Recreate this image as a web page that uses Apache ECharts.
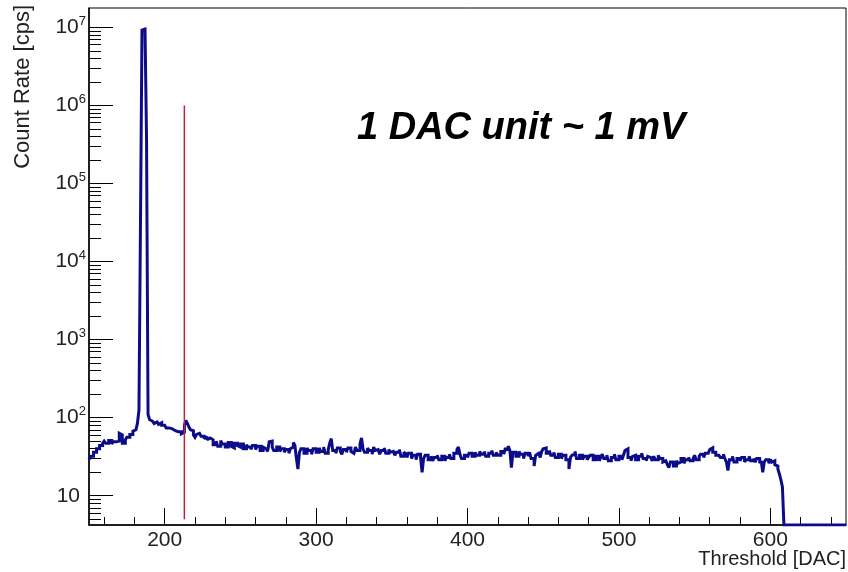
<!DOCTYPE html>
<html>
<head>
<meta charset="utf-8">
<script src="https://cdn.jsdelivr.net/npm/echarts@6/dist/echarts.min.js"></script>
<style>
  html, body { margin: 0; padding: 0; background: #fff; }
  #chart { width: 848px; height: 572px; }
</style>
</head>
<body>
<div id="chart"></div>
<script>
// histogram: 1 DAC bins starting at 150
var BIN_START = 150
var BIN_WIDTH = 1
var counts = [
  29, 32, 32, 36, 36, 40, 40, 44, 44, 47,
  50, 47, 47, 51, 51, 46, 49, 49, 47, 50,
  63, 60, 47, 47, 52, 56, 56, 61, 61, 67,
  70, 72, 85, 125, 31000, 9200000, 9500000, 9300000, 380000, 110,
  95, 90, 90, 84, 88, 88, 82, 86, 80, 80,
  78, 74, 74, 70, 72, 68, 68, 71, 66, 68,
  66, 62, 65, 80, 92, 84, 76, 70, 68, 60,
  56, 61, 63, 63, 58, 58, 54, 57, 52, 55,
  52, 52, 45, 45, 50, 43, 43, 51, 46, 46,
  42, 42, 48, 48, 43, 41, 47, 47, 44, 42,
  46, 46, 40, 40, 45, 42, 42, 39, 44, 44,
  39, 43, 43, 38, 38, 42, 40, 40, 37, 49,
  50, 42, 38, 38, 42, 42, 37, 40, 40, 36,
  39, 39, 35, 40, 42, 48, 44, 30, 22, 36,
  40, 40, 35, 35, 41, 38, 38, 34, 40, 40,
  36, 36, 41, 37, 37, 42, 35, 35, 39, 47,
  54, 38, 38, 35, 41, 41, 37, 34, 39, 39,
  36, 41, 41, 37, 35, 35, 42, 38, 38, 46,
  55, 40, 36, 36, 41, 38, 38, 34, 42, 38,
  39, 39, 34, 38, 38, 41, 35, 35, 39, 36,
  37, 37, 33, 36, 36, 39, 32, 32, 36, 34,
  31, 35, 35, 30, 33, 33, 29, 34, 34, 31,
  20, 30, 33, 33, 29, 29, 32, 28, 31, 31,
  33, 29, 29, 32, 32, 28, 31, 31, 34, 30,
  30, 35, 35, 39, 42, 34, 30, 30, 33, 33,
  31, 35, 35, 32, 32, 36, 33, 33, 37, 34,
  34, 37, 32, 32, 35, 35, 38, 33, 33, 36,
  33, 33, 37, 37, 34, 41, 38, 43, 38, 23,
  36, 36, 32, 32, 37, 34, 34, 30, 35, 35,
  32, 36, 30, 30, 24, 33, 35, 35, 31, 37,
  40, 41, 35, 35, 38, 33, 33, 36, 31, 31,
  34, 34, 30, 33, 33, 29, 29, 22, 31, 33,
  34, 37, 30, 30, 33, 33, 29, 32, 32, 29,
  31, 33, 33, 29, 29, 32, 32, 28, 31, 34,
  30, 30, 33, 28, 28, 31, 31, 34, 29, 29,
  32, 32, 29, 33, 38, 40, 31, 31, 28, 32,
  33, 29, 29, 32, 32, 35, 30, 30, 28, 32,
  31, 31, 28, 32, 29, 29, 33, 30, 30, 27,
  28, 28, 25, 23, 27, 27, 24, 24, 28, 26,
  27, 30, 30, 26, 29, 29, 31, 28, 28, 30,
  33, 29, 29, 32, 34, 34, 31, 35, 35, 33,
  39, 41, 36, 36, 33, 33, 35, 31, 31, 34,
  30, 27, 21, 29, 29, 32, 27, 27, 30, 30,
  28, 31, 31, 27, 29, 29, 32, 28, 28, 30,
  27, 30, 30, 26, 28, 20, 27, 29, 29, 26,
  29, 27, 28, 25, 24, 22, 19, 16, 13,
  0, 0, 0, 0, 0, 0, 0, 0, 0, 0,
  0, 0, 0, 0, 0, 0, 0, 0, 0, 0,
  0, 0, 0, 0, 0, 0, 0, 0, 0, 0,
  0, 0, 0, 0, 0, 0, 0, 0, 0, 0,
  0
]

var X_MIN = 150
var X_MAX = 650
var Y_MIN = 4.22
var Y_MAX = 1.767e7

var xMajor = [200, 300, 400, 500, 600]
var xMinor = [160, 180, 220, 240, 260, 280, 320, 340, 360, 380, 420, 440, 460, 480,
              520, 540, 560, 580, 620, 640]
var yMajor = [10, 100, 1000, 10000, 100000, 1000000, 10000000]
var yMinor = [5, 6, 7, 8, 9, 20, 30, 40, 50, 60, 70, 80, 90,
              200, 300, 400, 500, 600, 700, 800, 900,
              2000, 3000, 4000, 5000, 6000, 7000, 8000, 9000,
              2e4, 3e4, 4e4, 5e4, 6e4, 7e4, 8e4, 9e4,
              2e5, 3e5, 4e5, 5e5, 6e5, 7e5, 8e5, 9e5,
              2e6, 3e6, 4e6, 5e6, 6e6, 7e6, 8e6, 9e6]

// threshold marker
var cutX = 213
var cutY = [5, 1e6]

var histData = counts.map(function (c, i) {
  return [BIN_START + i * BIN_WIDTH, Math.max(c, Y_MIN)]
})
histData.push([BIN_START + counts.length * BIN_WIDTH, Math.max(counts[counts.length - 1], Y_MIN)])

var chart = echarts.init(document.getElementById('chart'))

var font = '"Liberation Sans", Arial, sans-serif'

var option = {
  animation: false,
  backgroundColor: '#fff',
  grid: {
    left: 89, top: 8, width: 757, height: 517,
    show: true, borderColor: '#000', borderWidth: 1, backgroundColor: 'transparent'
  },
  xAxis: [
    {
      type: 'value', min: X_MIN, max: X_MAX, position: 'bottom',
      axisLine: { lineStyle: { color: '#000', width: 1.5 } },
      axisTick: { inside: true, length: 17, customValues: xMajor, lineStyle: { color: '#000' } },
      axisLabel: {
        customValues: xMajor, margin: 5, color: '#222',
        fontFamily: font, fontSize: 21
      },
      splitLine: { show: false }
    },
    {
      type: 'value', min: X_MIN, max: X_MAX, position: 'bottom', offset: 0,
      axisLine: { show: false },
      axisTick: { inside: true, length: 8, customValues: xMinor, lineStyle: { color: '#000' } },
      axisLabel: { show: false },
      splitLine: { show: false }
    }
  ],
  yAxis: [
    {
      type: 'log', logBase: 10, min: Y_MIN, max: Y_MAX, position: 'left',
      axisLine: { show: true, lineStyle: { color: '#000', width: 1.5 } },
      axisTick: { inside: true, length: 24, customValues: yMajor, lineStyle: { color: '#000' } },
      axisLabel: {
        customValues: yMajor, margin: 3, color: '#222',
        fontFamily: font, fontSize: 21,
        formatter: function (v) {
          var n = Math.round(Math.log10(v))
          if (n === 1) return '{p|10}'
          return '{b|10}{s|' + n + '}'
        },
        rich: {
          p: { fontFamily: font, fontSize: 21, color: '#222', padding: [0, 6, 0, 0] },
          b: { fontFamily: font, fontSize: 21, color: '#222' },
          s: { fontFamily: font, fontSize: 13, color: '#222', lineHeight: 13, padding: [0, 0, 12, 0] }
        }
      },
      splitLine: { show: false }
    },
    {
      type: 'log', logBase: 10, min: Y_MIN, max: Y_MAX, position: 'left', offset: 0,
      axisLine: { show: false },
      axisTick: { inside: true, length: 12, customValues: yMinor, lineStyle: { color: '#000' } },
      axisLabel: { show: false },
      splitLine: { show: false }
    }
  ],
  series: [
    {
      type: 'line',
      step: 'end',
      data: histData,
      showSymbol: false,
      symbol: 'none',
      lineStyle: { color: '#0c0c8a', width: 3, join: 'miter', miterLimit: 2, cap: 'butt' }
    },
    {
      type: 'line',
      data: [[cutX, cutY[0]], [cutX, cutY[1]]],
      symbol: 'none',
      lineStyle: { color: '#b3263e', width: 1.5 }
    }
  ],
  graphic: [
    {
      type: 'text', x: 23, y: 5, rotation: Math.PI / 2,
      style: {
        text: 'Count Rate [cps]', fontFamily: font, fontSize: 22, fill: '#222',
        align: 'right', verticalAlign: 'middle'
      }
    },
    {
      type: 'text', right: 2, top: 549,
      style: {
        text: 'Threshold [DAC]', fontFamily: font, fontSize: 20, fill: '#222'
      }
    },
    {
      type: 'text', x: 357, y: 129,
      style: {
        text: '1 DAC unit ~ 1 mV', fontFamily: font, fontSize: 38,
        fontWeight: 'bold', fontStyle: 'italic', fill: '#000',
        verticalAlign: 'middle'
      }
    }
  ]
}

chart.setOption(option)
</script>
</body>
</html>
